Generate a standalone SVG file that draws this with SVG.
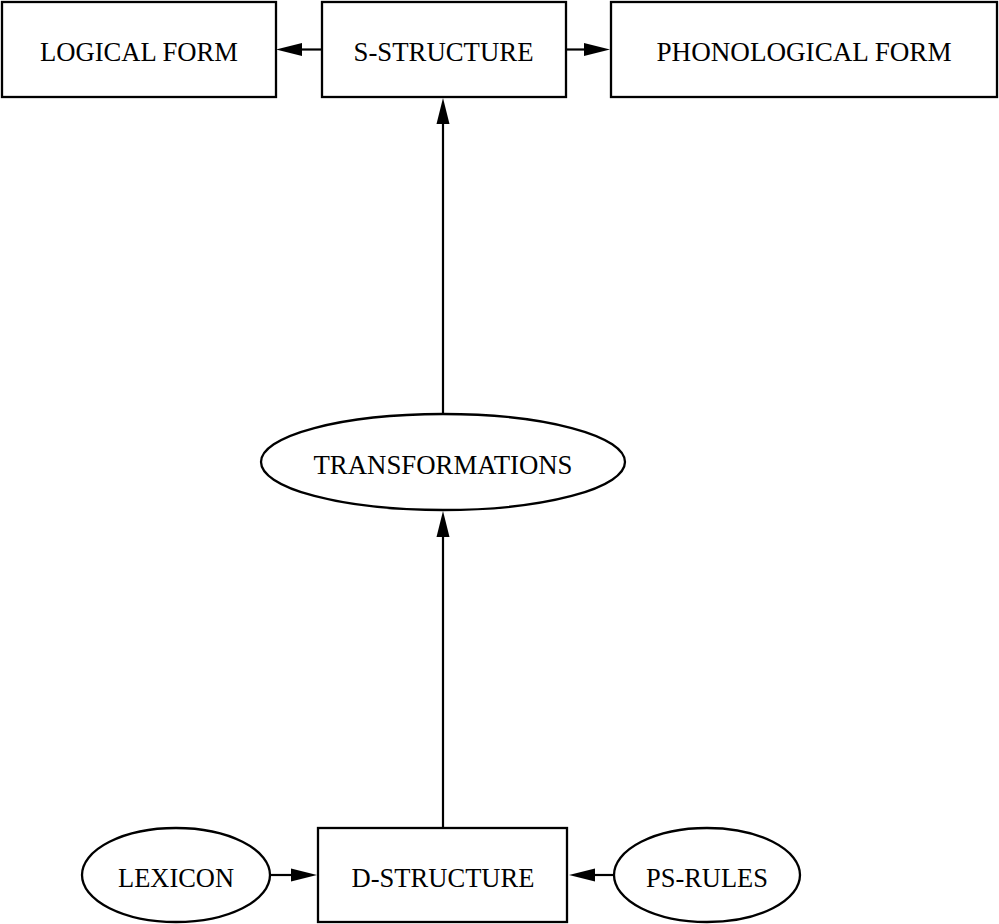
<svg xmlns="http://www.w3.org/2000/svg" width="999" height="924" viewBox="0 0 999 924">
<style>
.n{fill:#fff;stroke:#000;stroke-width:2.3}
.t{font-family:"Liberation Serif","Times New Roman",serif;font-size:28px;fill:#000;text-anchor:middle}
.c{stroke:#000;stroke-width:2.2;fill:none}
</style>
<defs>
<marker id="ah" markerUnits="userSpaceOnUse" markerWidth="27" markerHeight="16" viewBox="0 0 27 16" refX="0" refY="8" orient="auto">
<path d="M0,1.5 L26,8 L0,14.5 z" fill="#000"/>
</marker>
</defs>
<rect width="999" height="924" fill="#fff"/>
<g id="connectors">
<line class="c" x1="322" y1="49.5" x2="302" y2="49.5" marker-end="url(#ah)"/>
<line class="c" x1="566" y1="49.5" x2="584" y2="49.5" marker-end="url(#ah)"/>
<line class="c" x1="443" y1="414" x2="443" y2="124" marker-end="url(#ah)"/>
<line class="c" x1="443" y1="828" x2="443" y2="537" marker-end="url(#ah)"/>
<line class="c" x1="270" y1="875" x2="291" y2="875" marker-end="url(#ah)"/>
<line class="c" x1="615" y1="875" x2="595" y2="875" marker-end="url(#ah)"/>
</g>
<g id="logical-form">
<rect class="n" x="2" y="2" width="274" height="95"/>
<text class="t" x="139" y="60.5" textLength="198" lengthAdjust="spacingAndGlyphs">LOGICAL FORM</text>
</g>
<g id="s-structure">
<rect class="n" x="322" y="2" width="244" height="95"/>
<text class="t" x="443.5" y="60.5" textLength="180" lengthAdjust="spacingAndGlyphs">S-STRUCTURE</text>
</g>
<g id="phonological-form">
<rect class="n" x="611" y="2" width="386" height="95"/>
<text class="t" x="804" y="60.5" textLength="295" lengthAdjust="spacingAndGlyphs">PHONOLOGICAL FORM</text>
</g>
<g id="transformations">
<ellipse class="n" cx="443" cy="462" rx="182" ry="48"/>
<text class="t" x="443" y="474" textLength="259" lengthAdjust="spacingAndGlyphs">TRANSFORMATIONS</text>
</g>
<g id="d-structure">
<rect class="n" x="318" y="828" width="249" height="94"/>
<text class="t" x="443" y="887" textLength="183" lengthAdjust="spacingAndGlyphs">D-STRUCTURE</text>
</g>
<g id="lexicon">
<ellipse class="n" cx="176" cy="875" rx="94" ry="47"/>
<text class="t" x="176" y="887" textLength="116" lengthAdjust="spacingAndGlyphs">LEXICON</text>
</g>
<g id="ps-rules">
<ellipse class="n" cx="707" cy="875" rx="93" ry="47"/>
<text class="t" x="707" y="887" textLength="122" lengthAdjust="spacingAndGlyphs">PS-RULES</text>
</g>
</svg>
